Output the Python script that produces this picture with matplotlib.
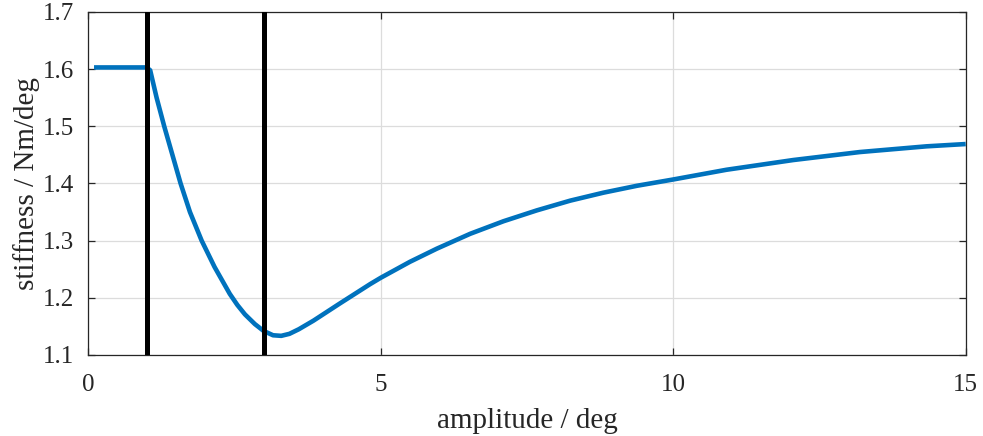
import matplotlib
matplotlib.use('Agg')
import matplotlib.pyplot as plt

plt.rcParams['font.family'] = ['Liberation Serif', 'DejaVu Serif']

# stiffness curve over oscillation amplitude
amplitude = [0.1, 1.0, 1.06, 1.17, 1.30, 1.44, 1.58, 1.74, 1.94, 2.16, 2.42, 2.55,
             2.68, 2.85, 3.0, 3.16, 3.3, 3.44, 3.6, 3.85, 4.3, 4.82, 5.0, 5.5,
             5.96, 6.53, 7.1, 7.67, 8.24, 8.81, 9.38, 10.0, 10.91, 12.05, 13.19,
             14.33, 15.0]
stiffness = [1.603, 1.603, 1.598, 1.550, 1.500, 1.450, 1.400, 1.350, 1.300, 1.254,
             1.207, 1.1875, 1.171, 1.154, 1.142, 1.1345, 1.1335, 1.137, 1.145, 1.160,
             1.190, 1.224, 1.235, 1.263, 1.286, 1.312, 1.334, 1.353, 1.370, 1.384,
             1.396, 1.407, 1.424, 1.441, 1.455, 1.465, 1.469]

# region boundaries
boundaries = [1.0, 3.0]

fig = plt.figure(figsize=(9.83, 4.36), dpi=100)
ax = fig.add_axes([0.0897, 0.1858, 0.8927, 0.7867])

ax.plot(amplitude, stiffness, color='#0072BD', linewidth=3.3, zorder=3,
        solid_joinstyle='round', solid_capstyle='butt')
for xb in boundaries:
    ax.axvline(xb, color='black', linewidth=3.6, zorder=4)

ax.set_xlim(0, 15)
ax.set_ylim(1.1, 1.7)
ax.set_xticks([0, 5, 10, 15])
ax.set_yticks([1.1, 1.2, 1.3, 1.4, 1.5, 1.6, 1.7])
ax.set_yticklabels(['1.1', '1.2', '1.3', '1.4', '1.5', '1.6', '1.7'])

ax.grid(True, color='#dcdcdc', linewidth=0.9)
ax.set_axisbelow(True)
ax.tick_params(direction='in', length=5, width=0.9, colors='#262626',
               labelsize=18, top=True, right=True)
ax.tick_params(axis='x', pad=14)
ax.tick_params(axis='y', pad=10)
for s in ax.spines.values():
    s.set_color('#262626')
    s.set_linewidth(0.9)

ax.set_xlabel('amplitude / deg', fontsize=21, color='#262626', labelpad=8)
ax.set_ylabel('stiffness / Nm/deg', fontsize=21, color='#262626', labelpad=2)

plt.savefig('out.png', dpi=100)
plt.close()
